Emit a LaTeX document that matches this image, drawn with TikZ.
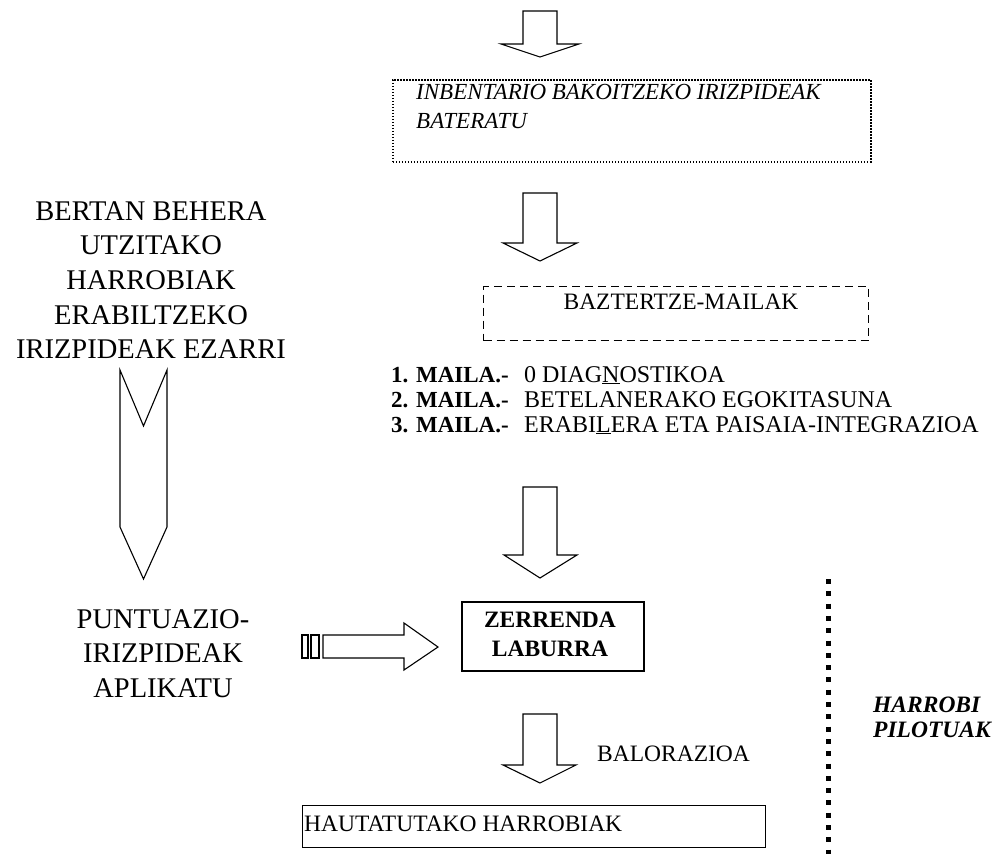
\documentclass[tikz,border=0pt]{standalone}
\usepackage{fontspec}
\setmainfont{Liberation Serif}
\begin{document}
\begin{tikzpicture}[x=1pt,y=-1pt,
  blockarrow/.style={draw=black, line width=1.1pt, line join=miter, fill=white},
  txt/.style={inner sep=0pt, font=\fontsize{23.5}{25}\selectfont},
  bigtxt/.style={inner sep=0pt, font=\fontsize{28.5}{34}\selectfont},
  lsttxt/.style={inner sep=0pt, font=\fontsize{24}{25}\selectfont},
  lstlbl/.style={inner sep=0pt, font=\fontsize{23}{25}\selectfont\bfseries},
  invtxt/.style={inner sep=0pt, font=\fontsize{23}{28}\selectfont\itshape},
  boxnode/.style={draw=black, inner sep=0pt, anchor=north west}]
\useasboundingbox (0,0) rectangle (997,854);

% top arrow
\draw[blockarrow] (523,11) -- (557,11) -- (557,44) -- (579,44) -- (540,57) -- (501,44) -- (523,44) -- cycle;

% dotted box
\node[boxnode, line width=1.6pt, dash pattern=on 1.6pt off 1.4pt, minimum width=478pt, minimum height=82pt] (inv) at (392,79) {};
\node[invtxt, anchor=base west] (inv1) at (416,99.3) {INBENTARIO BAKOITZEKO IRIZPIDEAK};
\node[invtxt, anchor=base west] (inv2) at (416,128.3) {BATERATU};

% arrow 2
\draw[blockarrow] (523,193) -- (557,193) -- (557,243) -- (577,243) -- (540,261) -- (503,243) -- (523,243) -- cycle;

% dashed box
\node[boxnode, line width=1.2pt, dash pattern=on 8pt off 5pt, minimum width=385pt, minimum height=54pt] (bazt) at (483,286) {};
\node[txt, anchor=base] (bazttxt) at (681,309.3) {BAZTERTZE-MAILAK};

% list
\node[lstlbl, anchor=base west] (m1) at (391,382) {1. MAILA.-};
\node[lstlbl, anchor=base west] (m2) at (391,407) {2. MAILA.-};
\node[lstlbl, anchor=base west] (m3) at (391,432) {3. MAILA.-};
\node[lsttxt, anchor=base west] (t1) at (524,382) {0 DIAG\underline{N}OSTIKOA};
\node[lsttxt, anchor=base west] (t2) at (524,407) {BETELANERAKO EGOKITASUNA};
\node[lsttxt, anchor=base west] (t3) at (524,432) {ERABI\underline{L}ERA ETA PAISAIA-INTEGRAZIOA};

% arrow 3
\draw[blockarrow] (523,487) -- (557,487) -- (557,555) -- (577,555) -- (540,578) -- (504,555) -- (523,555) -- cycle;

% left text
\node[bigtxt, anchor=base] (b1) at (151,220) {BERTAN BEHERA};
\node[bigtxt, anchor=base] (b2) at (151,254.7) {UTZITAKO};
\node[bigtxt, anchor=base] (b3) at (151,289.3) {HARROBIAK};
\node[bigtxt, anchor=base] (b4) at (151,324) {ERABILTZEKO};
\node[bigtxt, anchor=base] (b5) at (151,358.7) {IRIZPIDEAK EZARRI};

% chevron
\draw[blockarrow] (120,370) -- (143.5,426) -- (167,370) -- (167,527) -- (143.5,579) -- (120,527) -- cycle;

% puntuazio
\node[bigtxt, anchor=base] (p1) at (163,628) {PUNTUAZIO-};
\node[bigtxt, anchor=base] (p2) at (163,662.7) {IRIZPIDEAK};
\node[bigtxt, anchor=base] (p3) at (163,697.4) {APLIKATU};

% striped arrow
\draw[blockarrow] (302,635) rectangle (308,658);
\draw[blockarrow] (311,635) rectangle (319,658);
\draw[blockarrow] (323,635) -- (404,635) -- (404,623) -- (438,647) -- (404,670) -- (404,658) -- (323,658) -- cycle;

% zerrenda box
\node[boxnode, line width=1.6pt, minimum width=182pt, minimum height=69pt] (zer) at (461,601) {};
\node[txt, anchor=base, font=\fontsize{23.5}{25}\selectfont\bfseries] (z1) at (550,627) {ZERRENDA};
\node[txt, anchor=base, font=\fontsize{23.5}{25}\selectfont\bfseries] (z2) at (550,656) {LABURRA};

% arrow 4
\draw[blockarrow] (523,714) -- (557,714) -- (557,765) -- (576,765) -- (540,783) -- (503,765) -- (523,765) -- cycle;
\node[txt, anchor=base west] (bal) at (597,761) {BALORAZIOA};

% hautatutako box
\node[boxnode, line width=1.4pt, minimum width=463pt, minimum height=42pt] (haut) at (302,805) {};
\node[txt, anchor=base west] (hauttxt) at (304,831.7) {HAUTATUTAKO HARROBIAK};

% vertical dotted divider
\coordinate (vtop) at (828,579);
\coordinate (vbot) at (828,854);
\draw[line width=5pt, dash pattern=on 5pt off 7.3pt] (vtop) -- (vbot);

% harrobi pilotuak
\node[txt, anchor=base west, font=\fontsize{23.5}{25}\selectfont\bfseries\itshape] (h1) at (873,712.7) {HARROBI};
\node[txt, anchor=base west, font=\fontsize{23.5}{25}\selectfont\bfseries\itshape] (h2) at (873,737.7) {PILOTUAK};
\end{tikzpicture}
\end{document}
